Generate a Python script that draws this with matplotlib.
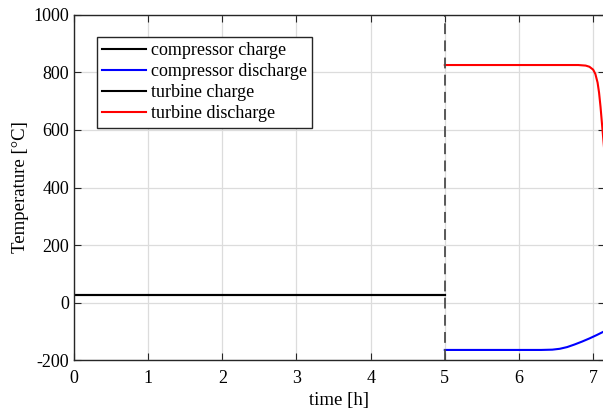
import numpy as np
import matplotlib.pyplot as plt

plt.rcParams['font.family'] = ['Liberation Serif', 'DejaVu Serif']
plt.rcParams['axes.unicode_minus'] = False

# charge phase (0-5 h), discharge phase (5 h onward)
t_charge = [0.0, 5.0]
comp_charge = [26, 26]
turb_charge = [26, 26]

t_dis = [5.0, 5.5, 6.0, 6.3, 6.45, 6.55, 6.65, 6.75, 6.85, 6.95, 7.05, 7.16]
comp_dis = [-165, -165, -165, -165, -164, -161, -155, -146, -136, -125, -113, -99]

t_turb = [5.0, 5.5, 6.0, 6.5, 6.8, 6.9, 6.95, 7.0, 7.03, 7.06, 7.08, 7.1, 7.12, 7.14, 7.16]
turb_dis = [826, 826, 826, 826, 826, 824, 820, 810, 795, 765, 730, 680, 620, 560, 500]

xticks = [0, 1, 2, 3, 4, 5, 6, 7]
yticks = [-200, 0, 200, 400, 600, 800, 1000]

fig = plt.figure(figsize=(6.03, 4.12), dpi=100)
ax = fig.add_axes([0.1227, 0.1262, 0.8806, 0.8374])

ax.plot(t_charge, comp_charge, color='black', lw=1.5, label='compressor charge')
ax.plot(t_dis, comp_dis, color='blue', lw=1.5, label='compressor discharge')
ax.plot(t_charge, turb_charge, color='black', lw=1.5, label='turbine charge')
ax.plot(t_turb, turb_dis, color='red', lw=1.5, label='turbine discharge')
ax.axvline(5, color='#4d4d4d', lw=1.3, ls=(0, (6, 3.5)))

ax.set_xlim(0, 7.16)
ax.set_ylim(-200, 1000)
ax.set_xticks(xticks)
ax.set_yticks(yticks)
ax.grid(True, color='#dcdcdc', lw=0.9)
ax.set_axisbelow(True)
ax.tick_params(direction='in', length=5, labelsize=13, colors='#262626',
               top=True, right=True, labelcolor='black')
ax.tick_params(axis='x', pad=7)
for s in ax.spines.values():
    s.set_color('#262626')
    s.set_linewidth(1.0)

ax.set_xlabel('time [h]', fontsize=13.5, labelpad=4)
ax.set_ylabel('Temperature [°C]', fontsize=13.5, labelpad=3)

leg = ax.legend(loc='upper left', bbox_to_anchor=(0.0433, 0.936), fontsize=13,
                fancybox=False, framealpha=1, edgecolor='#262626',
                handlelength=2.4, handletextpad=0.28, labelspacing=0.22,
                borderpad=0.3, borderaxespad=0)
leg.get_frame().set_linewidth(1.0)

fig.savefig('out.png', dpi=100)
